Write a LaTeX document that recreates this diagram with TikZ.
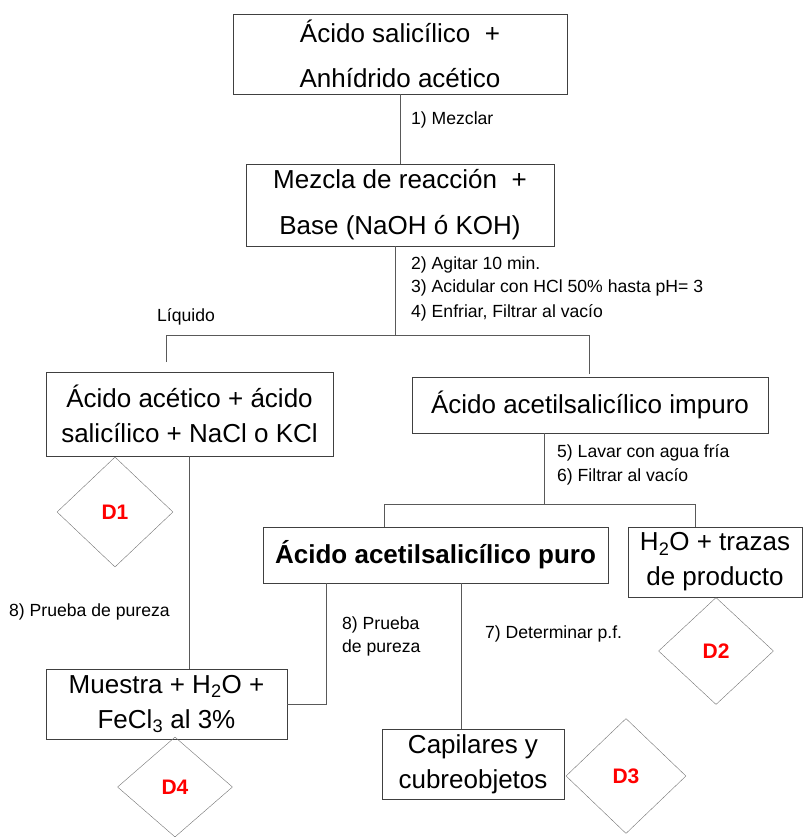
\documentclass[tikz,border=0pt]{standalone}
\usepackage{fontspec}
\setmainfont{Liberation Sans}
\usetikzlibrary{shapes.geometric}

\begin{document}
\begin{tikzpicture}[x=1pt,y=-1pt,
	caja/.style={draw=black!75,align=center,inner sep=0pt,font=\fontsize{26}{35}\selectfont},
	rombo/.style={diamond,draw=black!55,inner sep=0pt,text=red,font=\fontsize{21}{21}\selectfont\bfseries},
	paso/.style={anchor=west,inner sep=0pt,font=\fontsize{17.6}{17.6}\selectfont},
	linea/.style={draw=black!65}]

\useasboundingbox (0,0) rectangle (803,837);

% cajas
\node[caja,minimum width=334pt,minimum height=80pt,font=\fontsize{26}{45}\selectfont] (salicilico) at (400,54) {Ácido salicílico\ \ +\\Anhídrido acético};
\node[caja,minimum width=308pt,minimum height=82pt,font=\fontsize{26}{46}\selectfont] (mezcla) at (400,205) {Mezcla de reacción\ \ +\\Base (NaOH ó KOH)};
\node[caja,minimum width=287pt,minimum height=84pt] (liquido) at (189.5,414) {Ácido acético + ácido\\salicílico + NaCl o KCl};
\node[caja,minimum width=356pt,minimum height=56pt] (impuro) at (590,405) {Ácido acetilsalicílico impuro};
\node[caja,minimum width=345pt,minimum height=56pt,font=\fontsize{26}{35}\selectfont\bfseries] (puro) at (435.5,555) {Ácido acetilsalicílico puro};
\node[caja,minimum width=174pt,minimum height=70pt] (trazas) at (715,562) {H\textsubscript{2}O + trazas\\de producto};
\node[caja,minimum width=241pt,minimum height=70pt] (muestra) at (166.5,704) {Muestra + H\textsubscript{2}O +\\FeCl\textsubscript{3} al 3\%};
\node[caja,minimum width=182pt,minimum height=70pt] (capilares) at (473,764) {Capilares y\\cubreobjetos};

% desechos
\node[rombo,minimum width=116pt,minimum height=110pt] (d1) at (115,512) {D1};
\node[rombo,minimum width=115pt,minimum height=107pt] (d2) at (716,651) {D2};
\node[rombo,minimum width=120pt,minimum height=115pt] (d3) at (626,776) {D3};
\node[rombo,minimum width=115pt,minimum height=100pt] (d4) at (175,787) {D4};

% pasos
\node[paso] (p1) at (411,120) {1) Mezclar};
\node[paso] (p2) at (411,265) {2) Agitar 10 min.};
\node[paso] (p3) at (411,288) {3) Acidular con HCl 50\% hasta pH= 3};
\node[paso] (p4) at (411,313) {4) Enfriar, Filtrar al vacío};
\node[paso] (liq) at (157,317) {Líquido};
\node[paso] (p5) at (557,453) {5) Lavar con agua fría};
\node[paso] (p6) at (557,477) {6) Filtrar al vacío};
\node[paso] (p8a) at (9,612) {8) Prueba de pureza};
\node[paso] (p8b) at (342,625) {8) Prueba};
\node[paso] (p8c) at (342,648) {de pureza};
\node[paso] (p7) at (485,634) {7) Determinar p.f.};

% lineas
\coordinate (r1) at (395,335);
\coordinate (liqfin) at (166,362);
\coordinate (solfin) at (589,374);
\coordinate (r2) at (544,504);

\draw[linea] (salicilico) -- (mezcla);
\draw[linea] (mezcla.south -| r1) -- (r1);
\draw[linea] (liqfin) -- (liqfin |- r1) -- (solfin |- r1) -- (solfin);
\draw[linea] (impuro.south -| r2) -- (r2);
\draw[linea] (puro.north -| 384,0) -- (384,504) -- (695,504) -- (trazas.north -| 695,0);
\draw[linea] (liquido.south) -- (liquido.south |- muestra.north);
\draw[linea] (puro.south -| 326,0) |- (muestra.east);
\draw[linea] (puro.south -| 461,0) -- (capilares.north -| 461,0);

\end{tikzpicture}
\end{document}
